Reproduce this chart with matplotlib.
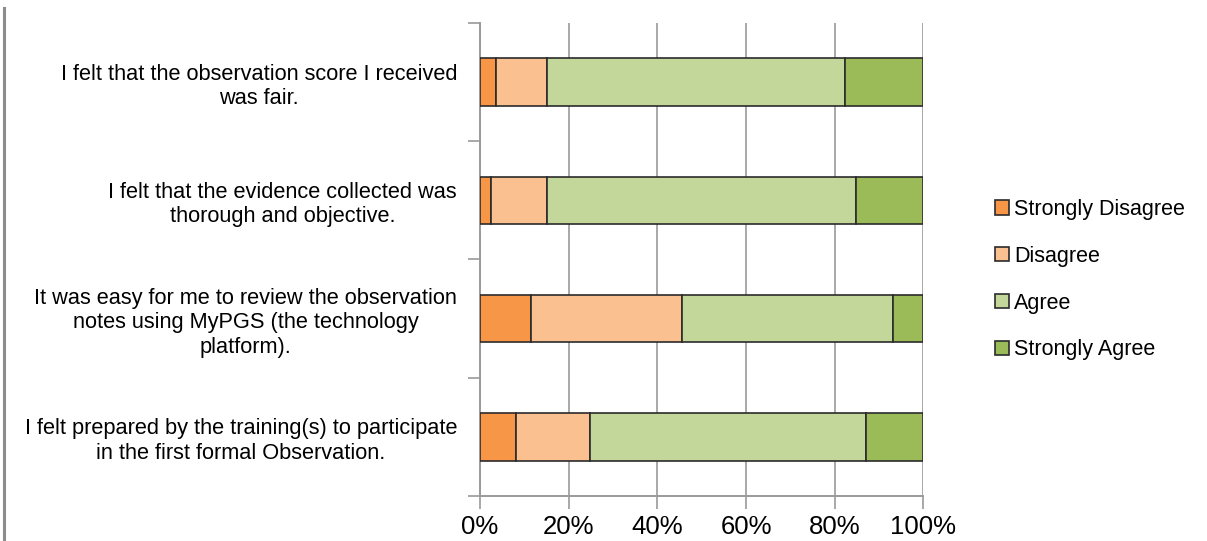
import matplotlib
matplotlib.use("Agg")
import matplotlib.pyplot as plt
from matplotlib.lines import Line2D
from matplotlib.ticker import PercentFormatter
import numpy as np

plt.rcParams['font.family'] = ['Liberation Sans', 'DejaVu Sans']

questions = [
    "I felt that the observation score I received\nwas fair.",
    "I felt that the evidence collected was\nthorough and objective.",
    "It was easy for me to review the observation\nnotes using MyPGS (the technology\nplatform).",
    "I felt prepared by the training(s) to participate\nin the first formal Observation.",
]
responses = ["Strongly Disagree", "Disagree", "Agree", "Strongly Agree"]
strongly_disagree = [3.6, 2.5, 11.4, 8.0]
disagree = [11.6, 12.7, 34.1, 16.8]
agree = [67.0, 69.6, 47.6, 62.2]
strongly_agree = [17.8, 15.2, 6.9, 13.0]
colors = ["#F79646", "#FAC090", "#C4D79B", "#9BBB59"]

fig = plt.figure(figsize=(12.07, 5.41), dpi=100)
ax = fig.add_axes([0.3977, 0.0832, 0.3674, 0.8743])

y = np.arange(len(questions))
left = np.zeros(len(questions))
for name, vals, c in zip(responses, [strongly_disagree, disagree, agree, strongly_agree], colors):
    ax.barh(y, vals, left=left, height=0.4, color=c, edgecolor="#2b2b2b",
            linewidth=1.2, label=name, zorder=3)
    left += np.array(vals)

ax.set_xlim(0, 100)
ax.set_ylim(3.5, -0.5)
ax.set_xticks(np.arange(0, 101, 20))
ax.xaxis.set_major_formatter(PercentFormatter(decimals=0))
ax.tick_params(axis="x", labelsize=18.5, length=9, width=1.2, color="#9a9a9a", pad=5)
ax.grid(axis="x", color="#a8a8a8", linewidth=1.4, zorder=0)

# boundaries get the tick marks, centres carry the question text
ax.set_yticks(np.arange(-0.5, 4.0, 1.0))
ax.set_yticklabels([])
ax.tick_params(axis="y", which="major", length=9, width=1.2, color="#9a9a9a")
ax.set_yticks(y, minor=True)
ax.set_yticklabels(questions, minor=True, multialignment="center", fontsize=15.7,
                   linespacing=1.22)
ax.tick_params(axis="y", which="minor", length=0, pad=16.5)

for side in ["top", "right"]:
    ax.spines[side].set_visible(False)
for side in ["left", "bottom"]:
    ax.spines[side].set_color("#9a9a9a")
    ax.spines[side].set_linewidth(1.4)

handles, labels = ax.get_legend_handles_labels()
fig.legend(handles, labels, loc="center left", bbox_to_anchor=(0.808, 0.483),
           frameon=False, fontsize=15.5, handlelength=0.65, handleheight=0.65,
           handletextpad=0.25, labelspacing=1.2)

# thin grey rule down the left edge
fig.add_artist(Line2D([0.0037, 0.0037], [0, 0.985], color="#8c8c8c", linewidth=2.2))

fig.savefig("out.png", dpi=100, facecolor="white")
